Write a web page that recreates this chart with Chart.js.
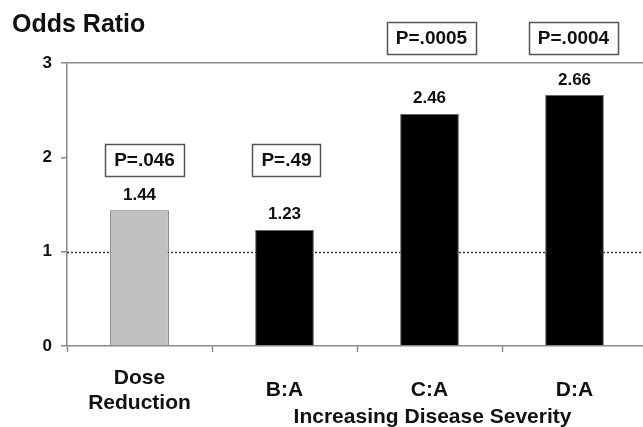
<!DOCTYPE html>
<html>
<head>
<meta charset="utf-8">
<script src="https://cdn.jsdelivr.net/npm/chart.js@4/dist/chart.umd.min.js"></script>
<style>
  html, body { margin: 0; padding: 0; background: #fff; overflow: hidden; }
  #wrap { width: 647px; height: 427px; }
</style>
</head>
<body>
<div id="wrap"><canvas id="c"></canvas></div>
<script>
// Odds ratios by comparison group
const categories = [['Dose', 'Reduction'], 'B:A', 'C:A', 'D:A'];
const oddsRatios = [1.44, 1.23, 2.46, 2.66];
const pValues = ['P=.046', 'P=.49', 'P=.0005', 'P=.0004'];
const barColors = ['#c0c0c0', '#000000', '#000000', '#000000'];
const yTicks = [0, 1, 2, 3];
const groupLabel = 'Increasing Disease Severity';
const groupMembers = [1, 2, 3];
const referenceValue = 1;

const FONT = "'Liberation Sans', Arial, Helvetica, sans-serif";
const AXIS_GRAY = '#8a8a8a';
const TEXT = '#111111';

// dotted reference line at OR = 1, behind the bars
const referenceLine = {
  id: 'referenceLine',
  beforeDatasetsDraw(chart) {
    const { ctx, chartArea, scales } = chart;
    const y = Math.round(scales.y.getPixelForValue(referenceValue)) + 0.5;
    ctx.save();
    ctx.strokeStyle = '#333333';
    ctx.lineWidth = 1.5;
    ctx.setLineDash([2, 2]);
    ctx.beginPath();
    ctx.moveTo(chartArea.left, y);
    ctx.lineTo(chartArea.right, y);
    ctx.stroke();
    ctx.restore();
  }
};

// numeric value above each bar
const valueLabels = {
  id: 'valueLabels',
  afterDatasetsDraw(chart) {
    const { ctx } = chart;
    const meta = chart.getDatasetMeta(0);
    ctx.save();
    ctx.fillStyle = TEXT;
    ctx.font = `bold 17px ${FONT}`;
    ctx.textAlign = 'center';
    ctx.textBaseline = 'alphabetic';
    meta.data.forEach((bar, i) => {
      ctx.fillText(oddsRatios[i].toFixed(2), bar.x, bar.y - 10.5);
    });
    ctx.restore();
  }
};

// boxed p-values, placed in two rows on the value axis
const pValueBoxes = {
  id: 'pValueBoxes',
  afterDraw(chart, args, opts) {
    const { ctx, scales } = chart;
    const meta = chart.getDatasetMeta(0);
    ctx.save();
    ctx.font = `bold 19px ${FONT}`;
    ctx.textAlign = 'center';
    ctx.textBaseline = 'middle';
    meta.data.forEach((bar, i) => {
      const cy = scales.y.getPixelForValue(opts.rows[i]);
      const cx = bar.x + (opts.dx[i] || 0);
      const w = ctx.measureText(pValues[i]).width + 18;
      const h = 32;
      ctx.fillStyle = '#ffffff';
      ctx.fillRect(cx - w / 2, cy - h / 2, w, h);
      ctx.strokeStyle = '#555555';
      ctx.lineWidth = 1.5;
      ctx.strokeRect(Math.round(cx - w / 2) + 0.5, Math.round(cy - h / 2) + 0.5, Math.round(w), h);
      ctx.fillStyle = TEXT;
      ctx.fillText(pValues[i], cx, cy + 1);
    });
    ctx.restore();
  }
};

// group caption under the severity comparisons
const groupCaption = {
  id: 'groupCaption',
  afterDraw(chart) {
    const { ctx } = chart;
    const meta = chart.getDatasetMeta(0);
    const xs = groupMembers.map(i => meta.data[i].x);
    const cx = xs.reduce((a, b) => a + b, 0) / xs.length + 3;
    ctx.save();
    ctx.fillStyle = TEXT;
    ctx.font = `bold 21px ${FONT}`;
    ctx.textAlign = 'center';
    ctx.textBaseline = 'alphabetic';
    ctx.fillText(groupLabel, cx, 423);
    ctx.restore();
  }
};

new Chart(document.getElementById('c'), {
  type: 'bar',
  data: {
    labels: categories,
    datasets: [{
      data: oddsRatios,
      backgroundColor: barColors,
      borderColor: '#666666',
      borderWidth: 1,
      barPercentage: 0.405,
      categoryPercentage: 1
    }]
  },
  plugins: [referenceLine, valueLabels, pValueBoxes, groupCaption],
  options: {
    responsive: true,
    maintainAspectRatio: false,
    animation: false,
    layout: { padding: { left: 12, top: 0, right: 0, bottom: 0 } },
    plugins: {
      legend: { display: false },
      tooltip: { enabled: false },
      title: {
        display: true,
        text: 'Odds Ratio',
        align: 'start',
        color: TEXT,
        font: { family: FONT, size: 25, weight: 'bold', lineHeight: 1.2 },
        padding: { top: 10, bottom: 23 }
      },
      pValueBoxes: {
        rows: [1.97, 1.97, 3.265, 3.265],
        dx: [5, 2, 2, -1]
      }
    },
    scales: {
      x: {
        offset: true,
        grid: {
          offset: true,
          drawOnChartArea: false,
          drawTicks: true,
          tickLength: 6,
          tickColor: AXIS_GRAY,
          tickWidth: 1.5
        },
        border: { display: true, color: AXIS_GRAY, width: 1.5 },
        ticks: {
          color: TEXT,
          padding: 26,
          crossAlign: 'center',
          maxRotation: 0,
          font: { family: FONT, size: 21, weight: 'bold', lineHeight: 1.2 }
        },
        afterFit(scale) { scale.height = 81; }
      },
      y: {
        min: 0,
        max: 3,
        afterBuildTicks(scale) { scale.ticks = yTicks.map(v => ({ value: v })); },
        grid: {
          color: ctx => (ctx.tick && ctx.tick.value === 3) ? AXIS_GRAY : 'rgba(0,0,0,0)',
          lineWidth: 1.5,
          drawTicks: true,
          tickLength: 6,
          tickColor: AXIS_GRAY,
          tickWidth: 1.5
        },
        border: { display: true, color: AXIS_GRAY, width: 1.5 },
        ticks: {
          color: TEXT,
          padding: 9,
          font: { family: FONT, size: 17, weight: 'bold' }
        },
        afterFit(scale) { scale.width = 55; }
      }
    }
  }
});
</script>
</body>
</html>
